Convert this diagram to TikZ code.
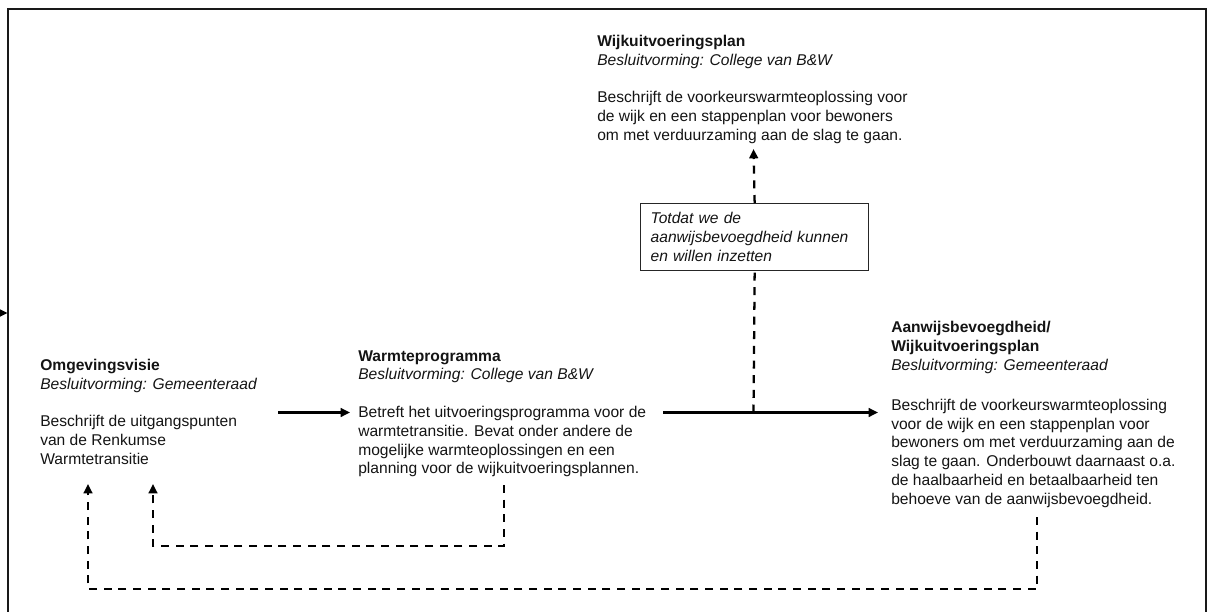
\documentclass[tikz,border=0pt]{standalone}
\usepackage{fontspec}
\setmainfont{Liberation Sans}
\usetikzlibrary{arrows.meta}
\begin{document}
\begin{tikzpicture}[x=0.75pt,y=-0.75pt,
  txt/.style={anchor=north west,inner sep=0pt,align=left,text=black!92,
    font=\fontsize{11.7}{14.1}\selectfont},
  notebox/.style={draw=black!85,line width=1pt,anchor=north west,inner xsep=7.5pt,inner ysep=0pt,
    text width=156pt,minimum height=50.25pt,align=left,text=black!92,
    font=\fontsize{11.7}{14.1}\selectfont\itshape},
  conn/.style={line width=1.7pt,draw=black,-{Triangle[length=7pt,width=6.5pt]}},
  dconn/.style={conn,dash pattern=on 6pt off 5pt},
  dline/.style={line width=1.7pt,draw=black,dash pattern=on 6pt off 5pt},
  frame/.style={line width=1.9pt,draw=black!90}]
\useasboundingbox (0,0) rectangle (1211,611);
% frame
\coordinate (fbl) at (8,620);
\coordinate (ftl) at (8,9);
\coordinate (ftr) at (1206,9);
\coordinate (fbr) at (1206,620);
\draw[frame] (fbl) -- (ftl) -- (ftr) -- (fbr);
% stub arrow at left
\coordinate (stubA) at (-12,313);
\coordinate (stubB) at (7.5,313);
\draw[conn] (stubA) -- (stubB);

% blocks
\node[txt] (b1) at (40,359) {\textbf{Omgevingsvisie}\\ \textit{Besluitvorming: Gemeenteraad}\\[14.1pt]
  Beschrijft de uitgangspunten\\ van de Renkumse\\ Warmtetransitie};
\node[txt] (b2) at (358,350) {\textbf{Warmteprogramma}\\ \textit{Besluitvorming: College van B\&W}\\[14.1pt]
  Betreft het uitvoeringsprogramma voor de\\ warmtetransitie. Bevat onder andere de\\
  mogelijke warmteoplossingen en een\\ planning voor de wijkuitvoeringsplannen.};
\node[txt] (b3) at (597,35) {\textbf{Wijkuitvoeringsplan}\\ \textit{Besluitvorming: College van B\&W}\\[14.1pt]
  Beschrijft de voorkeurswarmteoplossing voor\\ de wijk en een stappenplan voor bewoners\\
  om met verduurzaming aan de slag te gaan.};
\node[txt] (b4) at (891,321) {\textbf{Aanwijsbevoegdheid/}\\ \textbf{Wijkuitvoeringsplan}\\
  \textit{Besluitvorming: Gemeenteraad}\\[16pt]
  Beschrijft de voorkeurswarmteoplossing\\ voor de wijk en een stappenplan voor\\
  bewoners om met verduurzaming aan de\\ slag te gaan. Onderbouwt daarnaast o.a.\\
  de haalbaarheid en betaalbaarheid ten\\ behoeve van de aanwijsbevoegdheid.};
\node[notebox] (nb) at (640,203) {Totdat we de\\ aanwijsbevoegdheid kunnen\\ en willen inzetten};

% coordinates
\coordinate (a1s) at (278,412.5);
\coordinate (a2s) at (663,412.5);
\coordinate (jn) at (753.5,412.5);
\coordinate (tipTop) at (753.5,149);
\coordinate (d2s) at (504,485);
\coordinate (d2c) at (504,546);
\coordinate (d1tip) at (153,484);
\coordinate (d4s) at (1037,517);
\coordinate (d4c) at (1037,589);
\coordinate (d0tip) at (88,484);

% solid arrows
\draw[conn] (a1s) -- ([xshift=-6pt]b2.west |- a1s);
\draw[conn] (a2s) -- ([xshift=-9.75pt]b4.west |- a2s);
% dashed vertical through note
\draw[dline] (jn) -- (nb.south);
\draw[dconn] (nb.north) -- (tipTop);
% feedback loops
\draw[dconn] (d2s) -- (d2c) -| (d1tip);
\draw[dconn] (d4s) -- (d4c) -| (d0tip);
\end{tikzpicture}
\end{document}
